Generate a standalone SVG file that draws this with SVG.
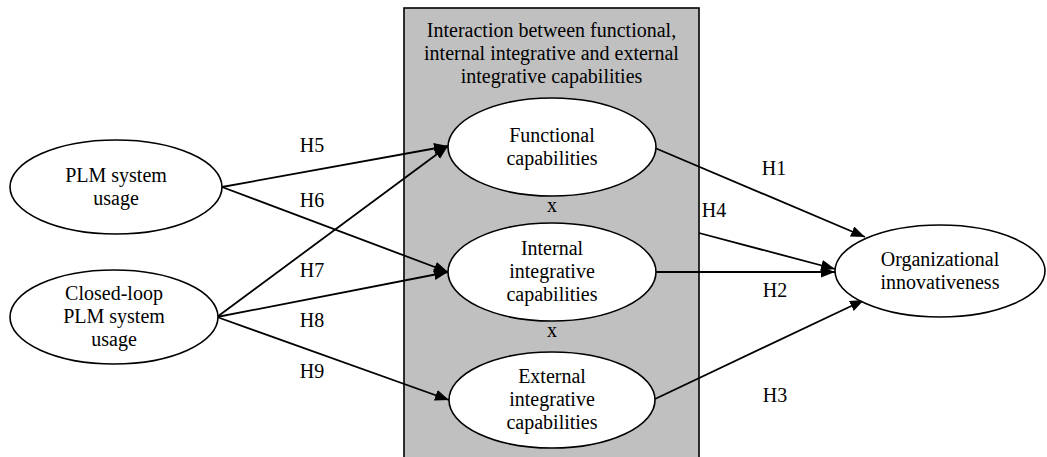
<svg xmlns="http://www.w3.org/2000/svg" width="1047" height="457" viewBox="0 0 1047 457">
  <style>
    text { font-family: "Liberation Serif", "Times New Roman", serif; font-size: 20px; fill: #000; text-anchor: middle; }
    .node ellipse { fill: #fff; stroke: #000; stroke-width: 1.6; }
    .panel { fill: #c0c0c0; stroke: #000; stroke-width: 1.6; }
    .edge { stroke: #000; stroke-width: 1.8; fill: none; marker-end: url(#arrow); }
  </style>
  <defs>
    <marker id="arrow" markerUnits="userSpaceOnUse" markerWidth="15" markerHeight="12" refX="14" refY="5.5" orient="auto">
      <path d="M0,0 L14,5.5 L0,11 z" fill="#000"/>
    </marker>
  </defs>

  <!-- shaded panel holding the three capability constructs -->
  <g id="interaction-panel">
    <rect class="panel" x="404" y="8" width="295" height="460"/>
    <text x="551.5" y="37">Interaction between functional,</text>
    <text x="551.5" y="60">internal integrative and external</text>
    <text x="551.5" y="83">integrative capabilities</text>
    <text x="552" y="212">x</text>
    <text x="552" y="337">x</text>
  </g>

  <!-- connectors -->
  <g id="connectors">
    <line class="edge" x1="222" y1="187" x2="448" y2="146"/>
    <line class="edge" x1="222" y1="187" x2="448" y2="272"/>
    <line class="edge" x1="217" y1="317" x2="448" y2="146"/>
    <line class="edge" x1="217" y1="317" x2="448" y2="272"/>
    <line class="edge" x1="217" y1="317" x2="449" y2="400"/>
    <line class="edge" x1="655" y1="148" x2="865" y2="237"/>
    <line class="edge" x1="699" y1="233" x2="835" y2="269"/>
    <line class="edge" x1="655" y1="272" x2="835" y2="272"/>
    <line class="edge" x1="655" y1="399" x2="864" y2="300"/>
  </g>

  <!-- hypothesis labels -->
  <g id="labels">
    <text x="312" y="152">H5</text>
    <text x="312" y="207">H6</text>
    <text x="312" y="277">H7</text>
    <text x="312" y="327">H8</text>
    <text x="312" y="378">H9</text>
    <text x="774" y="175">H1</text>
    <text x="714" y="217">H4</text>
    <text x="775" y="297">H2</text>
    <text x="775" y="402">H3</text>
  </g>

  <g id="plm-usage" class="node">
    <ellipse cx="116" cy="187" rx="106" ry="47"/>
    <text x="116" y="182">PLM system</text>
    <text x="116" y="205">usage</text>
  </g>

  <g id="closed-loop-usage" class="node">
    <ellipse cx="114" cy="317" rx="104" ry="47"/>
    <text x="114" y="300">Closed-loop</text>
    <text x="114" y="323">PLM system</text>
    <text x="114" y="346">usage</text>
  </g>

  <g id="functional" class="node">
    <ellipse cx="552" cy="147" rx="104" ry="49"/>
    <text x="552" y="142">Functional</text>
    <text x="552" y="165">capabilities</text>
  </g>

  <g id="internal" class="node">
    <ellipse cx="552" cy="272" rx="104" ry="49"/>
    <text x="552" y="255">Internal</text>
    <text x="552" y="278">integrative</text>
    <text x="552" y="301">capabilities</text>
  </g>

  <g id="external" class="node">
    <ellipse cx="552" cy="400" rx="103" ry="48"/>
    <text x="552" y="383">External</text>
    <text x="552" y="406">integrative</text>
    <text x="552" y="429">capabilities</text>
  </g>

  <g id="innovativeness" class="node">
    <ellipse cx="940" cy="271" rx="105" ry="46"/>
    <text x="940" y="266">Organizational</text>
    <text x="940" y="289">innovativeness</text>
  </g>
</svg>
